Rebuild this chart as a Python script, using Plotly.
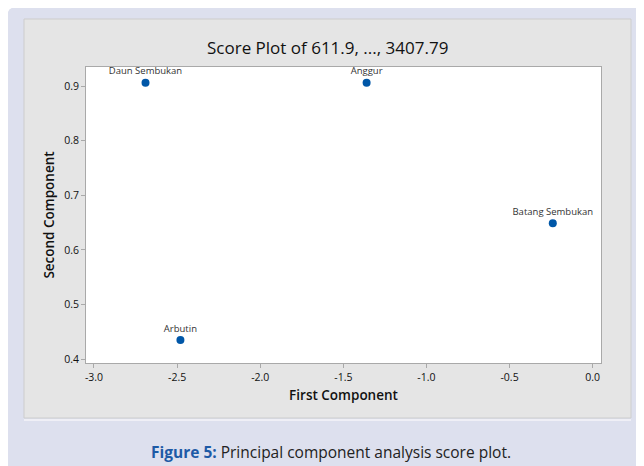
import plotly.graph_objects as go

# PCA score values
samples = ["Daun Sembukan", "Anggur", "Batang Sembukan", "Arbutin"]
first_comp = [-2.69, -1.36, -0.24, -2.48]
second_comp = [0.906, 0.906, 0.649, 0.435]

x_ticks = [-3.0, -2.5, -2.0, -1.5, -1.0, -0.5, 0.0]
x_labels = ["-3.0", "-2.5", "-2.0", "-1.5", "-1.0", "-0.5", "0.0"]
y_ticks = [0.4, 0.5, 0.6, 0.7, 0.8, 0.9]
y_labels = ["0.4", "0.5", "0.6", "0.7", "0.8", "0.9"]

# page body adds an 8px margin, so the figure is drawn 8px in from the corner
OFF = 8
W, H = 644 - OFF, 466 - OFF
L, T = 86 - OFF, 67 - OFF
R, B = W - (601 - OFF), H - (363 - OFF)
PW, PH = W - L - R, H - T - B


def px(x):
    # window pixel -> paper x
    return (x - OFF - L) / PW


def py(y):
    # window pixel -> paper y
    return (H - B - (y - OFF)) / PH


def rounded_rect(x0, y0, x1, y1, r):
    return (f"M {px(x0 + r)} {py(y0)} L {px(x1 - r)} {py(y0)} "
            f"Q {px(x1)} {py(y0)} {px(x1)} {py(y0 + r)} L {px(x1)} {py(y1 - r)} "
            f"Q {px(x1)} {py(y1)} {px(x1 - r)} {py(y1)} L {px(x0 + r)} {py(y1)} "
            f"Q {px(x0)} {py(y1)} {px(x0)} {py(y1 - r)} L {px(x0)} {py(y0 + r)} "
            f"Q {px(x0)} {py(y0)} {px(x0 + r)} {py(y0)} Z")


fig = go.Figure()
fig.add_trace(go.Scatter(
    x=first_comp, y=second_comp, text=samples,
    mode="markers+text", textposition="top center",
    textfont=dict(family="Open Sans", size=9.5, color="#333"),
    marker=dict(size=8, color="#0057a8"),
    hoverinfo="skip", showlegend=False,
))

fig.update_layout(
    width=W, height=H,
    margin=dict(l=L, r=R, t=T, b=B, pad=0),
    paper_bgcolor="rgba(0,0,0,0)", plot_bgcolor="white",
    font=dict(family="Open Sans", color="#222"),
    shapes=[
        dict(type="path", xref="paper", yref="paper", layer="below",
             path=rounded_rect(7, 7, 680, 500, 10),
             fillcolor="#dde0ee", line=dict(width=0)),
        dict(type="rect", xref="paper", yref="paper", layer="below",
             x0=px(24), x1=px(631), y0=py(418), y1=py(19),
             fillcolor="#e5e5e5", line=dict(color="#cdcdcd", width=1)),
        dict(type="line", xref="paper", yref="paper", layer="below",
             x0=px(24), x1=px(631), y0=py(420), y1=py(420),
             line=dict(color="#f4f4f8", width=1.5)),
        dict(type="rect", xref="paper", yref="paper", layer="below",
             x0=0, x1=1, y0=0, y1=1,
             fillcolor="white", line=dict(width=0)),
    ],
    annotations=[
        dict(text="Score Plot of 611.9, ..., 3407.79", xref="paper", yref="paper",
             x=px(327), y=py(48), xanchor="center", yanchor="middle", showarrow=False,
             font=dict(family="Open Sans", size=17, color="#111")),
        dict(text="<span style='color:#1d5aa6'><b>Figure 5:</b></span> Principal component analysis score plot.",
             xref="paper", yref="paper",
             x=px(331), y=py(452), xanchor="center", yanchor="middle", showarrow=False,
             font=dict(family="Open Sans", size=15.5, color="#222")),
    ],
)

axis_style = dict(
    showgrid=False, zeroline=False, showline=True, mirror=True,
    linecolor="#a9a9a9", linewidth=1, ticks="outside", ticklen=4,
    tickcolor="#a9a9a9", tickfont=dict(family="Open Sans", size=10.5, color="#111"),
)
fig.update_xaxes(
    range=[-3.048, 0.05], tickvals=x_ticks, ticktext=x_labels,
    title=dict(text="First Component", standoff=7,
               font=dict(family="Open Sans", size=13.5, color="#111", weight=600)),
    **axis_style,
)
fig.update_yaxes(
    range=[0.393, 0.935], tickvals=y_ticks, ticktext=y_labels,
    title=dict(text="Second Component", standoff=6,
               font=dict(family="Open Sans", size=13.5, color="#111", weight=600)),
    **axis_style,
)

fig.write_html("out.html")
